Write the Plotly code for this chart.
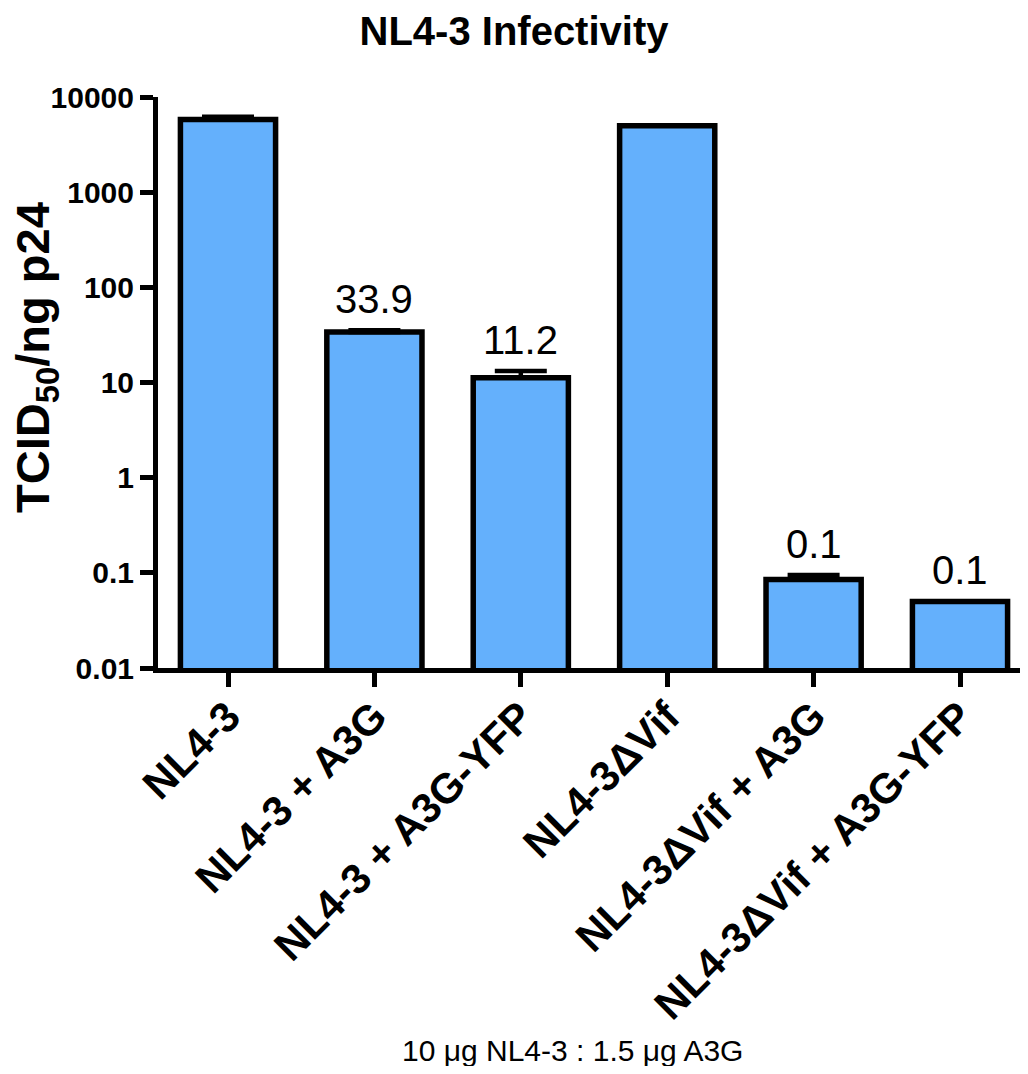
import numpy as np
import plotly.graph_objects as go

categories = ["NL4-3", "NL4-3 + A3G", "NL4-3 + A3G-YFP", "NL4-3ΔVif",
              "NL4-3ΔVif + A3G", "NL4-3ΔVif + A3G-YFP"]
values = [5800, 33.9, 11.2, 5000, 0.085, 0.05]
errors_up = [400, 1.6, 2.0, 0, 0.01, 0]
bar_labels = ["", "33.9", "11.2", "", "0.1", "0.1"]
ytick_vals = [0.01, 0.1, 1, 10, 100, 1000, 10000]
ytick_text = ["0.01", "0.1", "1", "10", "100", "1000", "10000"]

FONT = "Liberation Sans, Arial, Helvetica, sans-serif"
OFF = 8  # default page body margin
W, H = 1028 - OFF, 1074 - 2 * OFF
L, R, T = 158 - OFF, 0, 97 - OFF
B = H - (668 - OFF)
pw, ph = W - L - R, H - T - B


def px_to_paper(xp, yp):
    xf, yf = xp - OFF, yp - OFF
    return (xf - L) / pw, (T + ph - yf) / ph


fig = go.Figure()
fig.add_trace(go.Bar(
    x=categories, y=values, width=0.65,
    marker=dict(color="#64b0fc", line=dict(color="black", width=5.5)),
    error_y=dict(type="data", array=errors_up, arrayminus=[0] * len(values),
                 symmetric=False, color="black", thickness=4.5, width=26),
    showlegend=False, hoverinfo="skip",
))

for cat, v, e, lab in zip(categories, values, errors_up, bar_labels):
    if lab:
        fig.add_annotation(x=cat, y=np.log10(v + e), text=lab, showarrow=False,
                           yanchor="middle", yshift=31,
                           font=dict(family=FONT, size=40, color="black"))

# y-axis title
ax, ay = px_to_paper(36, 358)
fig.add_annotation(xref="paper", yref="paper", x=ax, y=ay,
                   text="<b>TCID<sub>50</sub>/ng p24</b>", textangle=-90,
                   showarrow=False, xanchor="center", yanchor="middle",
                   font=dict(family=FONT, size=47, color="black"))

# bottom note
nx, ny = px_to_paper(572, 1050)
fig.add_annotation(xref="paper", yref="paper", x=nx, y=ny,
                   text="10 μg NL4-3 : 1.5 μg A3G", showarrow=False,
                   xanchor="center", yanchor="middle",
                   font=dict(family=FONT, size=30, color="black"))

fig.update_layout(
    width=W, height=H,
    margin=dict(l=L, r=R, t=T, b=B, autoexpand=False),
    paper_bgcolor="white", plot_bgcolor="white",
    title=dict(text="<b>NL4-3 Infectivity</b>", x=(514 - OFF) / W, xref="container",
               xanchor="center", y=1 - (31 - OFF) / H, yanchor="middle",
               font=dict(family=FONT, size=40, color="black")),
    xaxis=dict(range=[(150 + OFF - 228) / 146.4 + 0.0, (1028 - 228) / 146.4],
               showline=True, linewidth=5, linecolor="black",
               ticks="outside", ticklen=14, tickwidth=5, tickcolor="black",
               tickangle=-45, showgrid=False, zeroline=False, automargin=False,
               ticklabelstandoff=-12,
               tickfont=dict(family=FONT, size=42, color="black", weight="bold")),
    yaxis=dict(type="log", range=[-2, 4], showline=True, linewidth=5, linecolor="black",
               ticks="outside", ticklen=13, tickwidth=5, tickcolor="black",
               tickvals=ytick_vals, ticktext=ytick_text, showgrid=False,
               zeroline=False, automargin=False,
               tickfont=dict(family=FONT, size=30, color="black", weight="bold")),
)

fig.write_html("out.html")
